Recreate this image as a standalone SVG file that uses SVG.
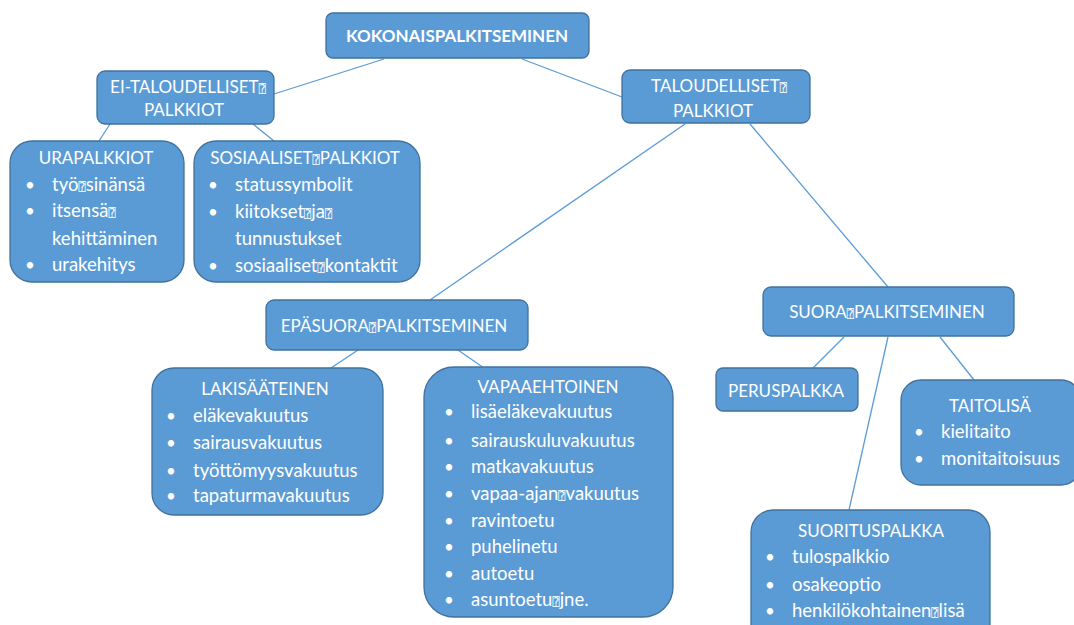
<svg xmlns="http://www.w3.org/2000/svg" width="1074" height="625" viewBox="0 0 1074 625">
<style>
.box{fill:#5B9BD5;stroke:#41719C;stroke-width:1.3}
.t{font-family:Lato,"Noto Sans",sans-serif;font-size:17px;fill:#fff}
.l{font-size:18.5px}
.c{text-anchor:middle}
.b{font-weight:bold;font-size:17px}
.q{font-family:"DejaVu Sans","DejaVu Sans Mono",sans-serif;font-size:12px}
#conn line{stroke:#5B9BD5;stroke-width:1.3}
</style>
<rect width="1074" height="625" fill="#fff"/>
<g id="conn">
<line x1="384" y1="59" x2="274" y2="94"/>
<line x1="522" y1="59" x2="622" y2="97"/>
<line x1="110" y1="124" x2="99" y2="141"/>
<line x1="253" y1="124" x2="274" y2="141"/>
<line x1="685" y1="124" x2="430" y2="300"/>
<line x1="750" y1="124" x2="888" y2="287"/>
<line x1="358" y1="350" x2="331" y2="368"/>
<line x1="458" y1="350" x2="484" y2="368"/>
<line x1="844" y1="337" x2="813" y2="368"/>
<line x1="888" y1="337" x2="849" y2="510"/>
<line x1="940" y1="337" x2="974" y2="380"/>
</g>
<g id="n-kokonais">
<rect class="box" x="326" y="13" width="263" height="45" rx="7"/>
<text class="t c b" x="457" y="42">KOKONAISPALKITSEMINEN</text>
</g>
<g id="n-eitaloudelliset">
<rect class="box" x="97" y="71" width="177" height="53" rx="8"/>
<text class="t c" x="188" y="93">EI-TALOUDELLISET<tspan class="q">⍰</tspan></text>
<text class="t c" x="184" y="116">PALKKIOT</text>
</g>
<g id="n-taloudelliset">
<rect class="box" x="622" y="70" width="188" height="53" rx="8"/>
<text class="t c" x="719" y="92">TALOUDELLISET<tspan class="q">⍰</tspan></text>
<text class="t c" x="713" y="117">PALKKIOT</text>
</g>
<g id="n-urapalkkiot">
<rect class="box" x="10" y="141" width="174" height="141" rx="22"/>
<text class="t c" x="96" y="164">URAPALKKIOT</text>
<text class="t" x="25" y="191">•</text><text class="t l" x="52" y="191">työ<tspan class="q">⍰</tspan>sinänsä</text>
<text class="t" x="25" y="217">•</text><text class="t l" x="52" y="217">itsensä<tspan class="q">⍰</tspan></text>
<text class="t l" x="52" y="245">kehittäminen</text>
<text class="t" x="25" y="271">•</text><text class="t l" x="52" y="271">urakehitys</text>
</g>
<g id="n-sosiaaliset">
<rect class="box" x="194" y="141" width="226" height="141" rx="22"/>
<text class="t c" x="305" y="164">SOSIAALISET<tspan class="q">⍰</tspan>PALKKIOT</text>
<text class="t" x="208" y="191">•</text><text class="t l" x="235" y="191">statussymbolit</text>
<text class="t" x="208" y="218">•</text><text class="t l" x="235" y="218">kiitokset<tspan class="q">⍰</tspan>ja<tspan class="q">⍰</tspan></text>
<text class="t l" x="235" y="245">tunnustukset</text>
<text class="t" x="208" y="272">•</text><text class="t l" x="235" y="272">sosiaaliset<tspan class="q">⍰</tspan>kontaktit</text>
</g>
<g id="n-epasuora">
<rect class="box" x="266" y="300" width="262" height="50" rx="8"/>
<text class="t c" x="394" y="332">EPÄSUORA<tspan class="q">⍰</tspan>PALKITSEMINEN</text>
</g>
<g id="n-lakisaateinen">
<rect class="box" x="152" y="368" width="231" height="147" rx="22"/>
<text class="t c" x="265" y="395">LAKISÄÄTEINEN</text>
<text class="t" x="166" y="422">•</text><text class="t l" x="193" y="422">eläkevakuutus</text>
<text class="t" x="166" y="449">•</text><text class="t l" x="193" y="449">sairausvakuutus</text>
<text class="t" x="166" y="477">•</text><text class="t l" x="193" y="477">työttömyysvakuutus</text>
<text class="t" x="166" y="502">•</text><text class="t l" x="193" y="502">tapaturmavakuutus</text>
</g>
<g id="n-vapaaehtoinen">
<rect class="box" x="424" y="367" width="249" height="250" rx="30"/>
<text class="t c" x="548" y="393">VAPAAEHTOINEN</text>
<text class="t" x="444" y="418">•</text><text class="t l" x="471" y="418">lisäeläkevakuutus</text>
<text class="t" x="444" y="447">•</text><text class="t l" x="471" y="447">sairauskuluvakuutus</text>
<text class="t" x="444" y="473">•</text><text class="t l" x="471" y="473">matkavakuutus</text>
<text class="t" x="444" y="500">•</text><text class="t l" x="471" y="500">vapaa-ajan<tspan class="q">⍰</tspan>vakuutus</text>
<text class="t" x="444" y="527">•</text><text class="t l" x="471" y="527">ravintoetu</text>
<text class="t" x="444" y="553">•</text><text class="t l" x="471" y="553">puhelinetu</text>
<text class="t" x="444" y="580">•</text><text class="t l" x="471" y="580">autoetu</text>
<text class="t" x="444" y="606">•</text><text class="t l" x="471" y="606">asuntoetu<tspan class="q">⍰</tspan>jne.</text>
</g>
<g id="n-suora">
<rect class="box" x="763" y="287" width="251" height="49" rx="8"/>
<text class="t c" x="887" y="318">SUORA<tspan class="q">⍰</tspan>PALKITSEMINEN</text>
</g>
<g id="n-peruspalkka">
<rect class="box" x="716" y="368" width="142" height="43" rx="7"/>
<text class="t c" x="786" y="397">PERUSPALKKA</text>
</g>
<g id="n-taitolisa">
<rect class="box" x="901" y="380" width="180" height="105" rx="20"/>
<text class="t c" x="990" y="412">TAITOLISÄ</text>
<text class="t" x="914" y="438">•</text><text class="t l" x="941" y="438">kielitaito</text>
<text class="t" x="914" y="465">•</text><text class="t l" x="941" y="465">monitaitoisuus</text>
</g>
<g id="n-suorituspalkka">
<rect class="box" x="751" y="510" width="239" height="140" rx="22"/>
<text class="t c" x="871" y="537">SUORITUSPALKKA</text>
<text class="t" x="765" y="563">•</text><text class="t l" x="792" y="563">tulospalkkio</text>
<text class="t" x="765" y="591">•</text><text class="t l" x="792" y="591">osakeoptio</text>
<text class="t" x="765" y="617">•</text><text class="t l" x="792" y="617">henkilökohtainen<tspan class="q">⍰</tspan>lisä</text>
</g>
</svg>
